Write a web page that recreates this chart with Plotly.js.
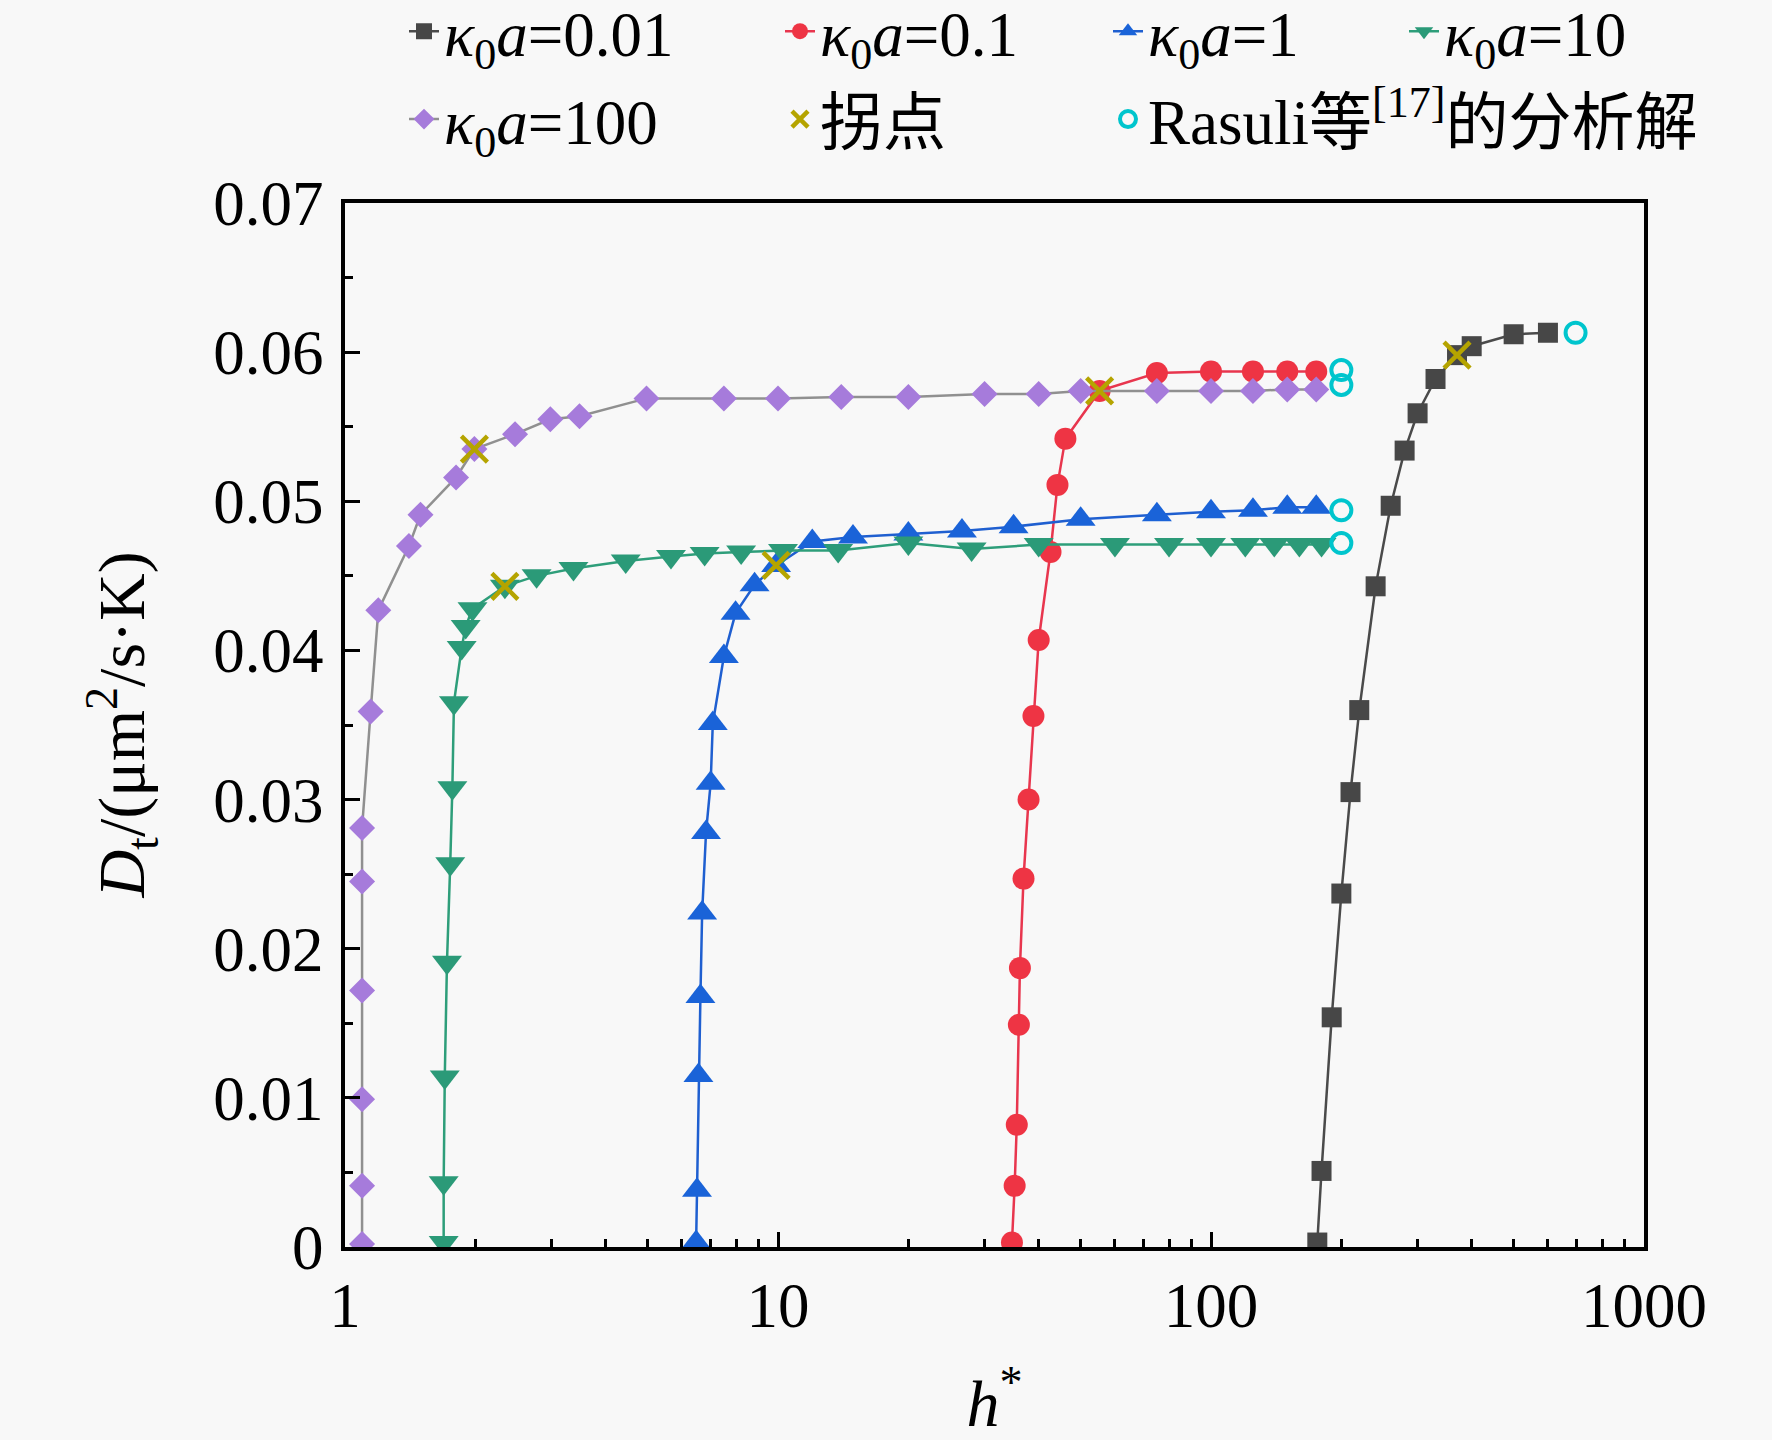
<!DOCTYPE html>
<html>
<head>
<meta charset="utf-8">
<script src="https://cdn.plot.ly/plotly-3.0.1.min.js"></script>
<style>
  body { margin: 0; background: #f8f8f8; }
  #chart { width: 1772px; height: 1440px; }
</style>
</head>
<body>
<div id="chart"></div>
<script>
// values (h* on a log axis, Dt in um^2/s/K)
var hK001 = [176, 180, 190, 200, 210, 220, 240, 260, 280, 300, 330, 370, 400, 500, 600];
var dK001 = [0.0003, 0.0051, 0.0154, 0.0237, 0.0305, 0.0360, 0.0443, 0.0497, 0.0534, 0.0559, 0.0582, 0.0598, 0.0604, 0.0612, 0.0613];

var hK01 = [34.7, 35.2, 35.6, 36.0, 36.2, 36.9, 37.9, 38.9, 40.0, 42.6, 44.2, 46.1, 55.3, 75, 100, 125, 150, 175];
var dK01 = [0.0003, 0.0041, 0.0082, 0.0149, 0.0187, 0.0247, 0.0300, 0.0356, 0.0407, 0.0466, 0.0511, 0.0542, 0.0574, 0.0586, 0.0587, 0.0587, 0.0587, 0.0587];

var hK1 = [6.47, 6.50, 6.55, 6.62, 6.68, 6.82, 6.99, 7.07, 7.5, 7.98, 8.83, 9.9, 12, 14.9, 20, 26.6, 35, 50, 75, 100, 125, 150, 175];
var dK1 = [0.0003, 0.0038, 0.0115, 0.0168, 0.0224, 0.0278, 0.0311, 0.0351, 0.0396, 0.0425, 0.0444, 0.0457, 0.0473, 0.0476, 0.0478, 0.0480, 0.0483, 0.0488, 0.0491, 0.0493, 0.0494, 0.0496, 0.0496];

var hK10 = [1.69, 1.69, 1.70, 1.72, 1.75, 1.77, 1.785, 1.86, 1.90, 1.97, 2.34, 2.77, 3.37, 4.45, 5.66, 6.77, 8.22, 10.27, 13.77, 20, 28, 40, 60, 80, 100, 120, 140, 160, 180];
var dK10 = [0.0003, 0.0043, 0.0114, 0.0191, 0.0257, 0.0308, 0.0365, 0.0402, 0.0416, 0.0428, 0.0443, 0.0450, 0.0455, 0.0460, 0.0463, 0.0465, 0.0466, 0.0467, 0.0467, 0.0472, 0.0468, 0.0471, 0.0471, 0.0471, 0.0471, 0.0471, 0.0471, 0.0471, 0.0471];

var hK100 = [1.095, 1.095, 1.095, 1.095, 1.095, 1.095, 1.146, 1.194, 1.405, 1.494, 1.805, 1.99, 2.47, 2.98, 3.48, 4.97, 7.5, 10, 14, 20, 30, 40, 50, 75, 100, 125, 150, 175];
var dK100 = [0.0002, 0.0041, 0.0099, 0.0172, 0.0245, 0.0281, 0.0359, 0.0427, 0.0470, 0.0491, 0.0516, 0.0535, 0.0545, 0.0555, 0.0557, 0.0569, 0.0569, 0.0569, 0.0570, 0.0570, 0.0572, 0.0572, 0.0574, 0.0574, 0.0574, 0.0574, 0.0575, 0.0575];

// knee points (拐点)
var hKnee = [370, 55.3, 9.9, 2.34, 1.99];
var dKnee = [0.0598, 0.0574, 0.0457, 0.0443, 0.0535];

// Rasuli et al. analytical solution
var hRasuli = [695, 200, 200, 200, 200];
var dRasuli = [0.0613, 0.0588, 0.0494, 0.0472, 0.0578];

var serif = "Liberation Serif, Times New Roman, Noto Sans CJK SC, serif";

function series(name, xs, ys, symbol, mcolor, lcolor, msize, legendId) {
  return {
    x: xs, y: ys, name: name, type: "scatter", mode: "lines+markers",
    line: {color: lcolor, width: 2.5},
    marker: {symbol: symbol, color: mcolor, size: msize},
    legend: legendId, legendgroup: name
  };
}

var traces = [
  series("<i>κ</i><sub>0</sub><i>a</i>=0.01", hK001, dK001, "square", "#474747", "#4a4a4a", 20, "legend"),
  series("<i>κ</i><sub>0</sub><i>a</i>=0.1", hK01, dK01, "circle", "#ee3444", "#e8364e", 22, "legend2"),
  series("<i>κ</i><sub>0</sub><i>a</i>=1", hK1, dK1, "triangle-up", "#1a63d8", "#1f5fd0", 26, "legend3"),
  series("<i>κ</i><sub>0</sub><i>a</i>=10", hK10, dK10, "triangle-down", "#2b9a78", "#2e9e7a", 26, "legend4"),
  series("<i>κ</i><sub>0</sub><i>a</i>=100", hK100, dK100, "diamond", "#a67bdb", "#909090", 20, "legend"),
  {
    x: hKnee, y: dKnee, name: "拐点", type: "scatter", mode: "markers",
    marker: {symbol: "x-thin-open", size: 26, color: "#b5a400", line: {color: "#b5a400", width: 4.5}},
    legend: "legend2", legendgroup: "knee"
  },
  {
    x: hRasuli, y: dRasuli, name: "Rasuli等<sup>[17]</sup>的分析解", type: "scatter", mode: "markers",
    marker: {symbol: "circle-open", size: 20, color: "#00c5cd", line: {color: "#00c5cd", width: 4}},
    legend: "legend3", legendgroup: "rasuli"
  }
];

// one vertical legend per column, so the two legend rows line up like the original
function legendAt(textLeft) {
  return {
    xref: "container", yref: "paper",
    x: (textLeft - 42) / 1772, y: 1.21, xanchor: "left", yanchor: "top",
    orientation: "v", bgcolor: "rgba(0,0,0,0)", tracegroupgap: 3,
    font: {family: serif, size: 63, color: "#000"}
  };
}

var tickFont = {family: serif, size: 63, color: "#000"};

var layout = {
  width: 1772, height: 1440,
  paper_bgcolor: "#f8f8f8", plot_bgcolor: "#f8f8f8",
  margin: {l: 345, r: 128, t: 203, b: 193, autoexpand: false},
  showlegend: true,
  legend: legendAt(446),
  legend2: legendAt(822),
  legend3: legendAt(1150),
  legend4: legendAt(1446),
  xaxis: {
    type: "log", range: [0, 3], dtick: 1, automargin: true,
    showgrid: false, zeroline: false,
    showline: true, mirror: true, linecolor: "#000", linewidth: 4,
    ticks: "inside", ticklen: 15, tickwidth: 3, tickcolor: "#000",
    minor: {ticks: "inside", ticklen: 8, tickwidth: 3, tickcolor: "#000", dtick: "D1", showgrid: false},
    tickfont: tickFont, ticklabelstandoff: 0,
    title: {text: "<i>h</i><sup>*</sup>", font: {family: serif, size: 66, color: "#000"}, standoff: 45}
  },
  yaxis: {
    range: [0, 0.07], dtick: 0.01, tickformat: "~g", automargin: false,
    showgrid: false, zeroline: false,
    showline: true, mirror: true, linecolor: "#000", linewidth: 4,
    ticks: "inside", ticklen: 15, tickwidth: 3, tickcolor: "#000",
    minor: {ticks: "inside", ticklen: 8, tickwidth: 3, tickcolor: "#000", dtick: 0.005, showgrid: false},
    tickfont: tickFont, ticklabelstandoff: 5
  },
  // rotated y title as an annotation (the axis title landed inside the plot)
  annotations: [{
    xref: "paper", yref: "paper", x: -0.172, y: 0.5,
    xanchor: "center", yanchor: "middle", textangle: -90, showarrow: false,
    text: "<i>D</i><sub>t</sub>/(μm<sup>2</sup>/s·K)",
    font: {family: serif, size: 66, color: "#000"}
  }]
};

Plotly.newPlot("chart", traces, layout, {displayModeBar: false, responsive: false});
</script>
</body>
</html>
